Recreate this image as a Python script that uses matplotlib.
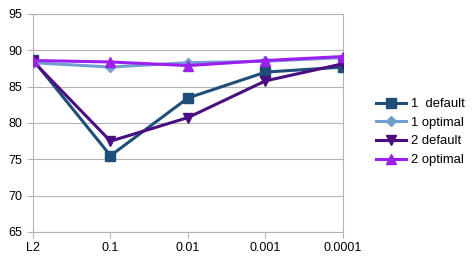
import matplotlib
matplotlib.use('Agg')
import matplotlib.pyplot as plt

plt.rcParams['font.family'] = ['Liberation Sans', 'DejaVu Sans']

categories = ['L2', '0.1', '0.01', '0.001', '0.0001']
default_1 = [88.7, 75.5, 83.45, 87.0, 87.7]
optimal_1 = [88.3, 87.7, 88.3, 88.5, 89.0]
default_2 = [88.5, 77.5, 80.75, 85.8, 88.15]
optimal_2 = [88.6, 88.4, 87.9, 88.6, 89.15]

fig = plt.figure(figsize=(4.77, 2.62), dpi=100)
ax = fig.add_axes([33/477, 1 - 232/262, 310/477, 218/262])

x = range(len(categories))
ax.plot(x, default_1, color='#1f4e79', marker='s', markersize=7, lw=2.2, label='1  default', zorder=3)
ax.plot(x, optimal_1, color='#729fcf', marker='D', markersize=5, lw=2.2, label='1 optimal', zorder=3)
ax.plot(x, default_2, color='#4b0d82', marker='v', markersize=7, lw=2.2, label='2 default', zorder=4)
ax.plot(x, optimal_2, color='#9c1ff0', marker='^', markersize=7, lw=2.2, label='2 optimal', zorder=4)

ax.set_xlim(0, 4)
ax.set_ylim(65, 95)
ax.set_yticks(range(65, 96, 5))
ax.set_xticks(list(x))
ax.set_xticklabels(categories)
ax.yaxis.grid(True, color='#b3b3b3', lw=0.8)
ax.set_axisbelow(True)
for s in ['left', 'bottom', 'right']:
    ax.spines[s].set_color('#b3b3b3')
ax.spines['top'].set_visible(False)
ax.tick_params(colors='#b3b3b3', labelcolor='black', labelsize=9, length=4, width=0.8)
for lbl in ax.get_xticklabels() + ax.get_yticklabels():
    lbl.set_clip_on(False)

ax.legend(loc='center left', bbox_to_anchor=(376/477, 130/262), bbox_transform=fig.transFigure,
          frameon=False, fontsize=9.4, handlelength=2.3, handletextpad=0.35, labelspacing=0.5,
          borderaxespad=0, borderpad=0)

fig.savefig('out.png', dpi=100)
